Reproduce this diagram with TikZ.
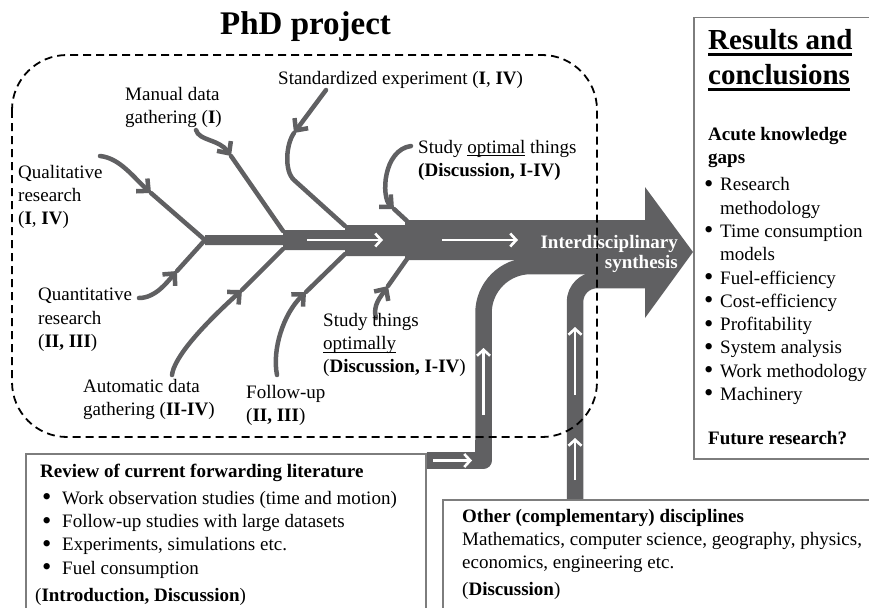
\documentclass[tikz,border=0pt]{standalone}
\usepackage{fontspec}
\usepackage{graphicx}
\setmainfont{Liberation Serif}
\usetikzlibrary{arrows.meta}
\definecolor{fishgray}{RGB}{96,96,98}
\definecolor{boxgray}{RGB}{125,125,125}
\newsavebox{\ulbox}
\newcommand{\ulthin}[1]{\sbox{\ulbox}{#1}\rlap{\rule[-3pt]{\wd\ulbox}{1pt}}\usebox{\ulbox}}
\newcommand{\ulthick}[1]{\sbox{\ulbox}{#1}\rlap{\rule[-6.5pt]{\wd\ulbox}{2.6pt}}\usebox{\ulbox}}
\newcommand{\bul}[1][16pt]{\makebox[#1][l]{\raisebox{-0.07em}{\scalebox{1.4}{\textbullet}}}}

\begin{document}
\begin{tikzpicture}[x=1pt, y=-1pt,
  lbl/.style={inner sep=0pt, align=left, font=\fontsize{19}{23.3}\selectfont},
  lblb/.style={lbl, font=\fontsize{19}{23.3}\selectfont\bfseries},
  bone/.style={fishgray, line width=4.5pt, line cap=round},
  bonetip/.style={-{Straight Barb[length=9pt,width=17pt]}},
  flow/.style={fishgray, line width=16.5pt},
  whitearrow/.style={white, line width=2.6pt, -{Straight Barb[length=6pt,width=13pt]}},
  infobox/.style={draw=boxgray, line width=1.5pt, fill=white, inner sep=0pt}]
	\useasboundingbox (0,0) rectangle (869,607);
	\clip (0,0) rectangle (869,607);

	\node[infobox, anchor=north west, minimum width=400pt, minimum height=200pt] (review) at (25,453) {};
	\node[infobox, anchor=north west, minimum width=450pt, minimum height=150pt] (other) at (442,499) {};
	\node[infobox, anchor=north west, minimum width=200pt, minimum height=441pt] (results) at (693,17) {};

	\fill[fishgray] (205,235) -- (283,235) -- (283,230) -- (345,230) -- (345,225) -- (405,225) -- (405,220) -- (650,220) -- (650,260) -- (405,260) -- (405,256) -- (345,256) -- (345,250) -- (283,250) -- (283,245) -- (205,245) -- cycle;
	\fill[fishgray] (645,187) -- (693,252) -- (645,318) -- cycle;

	\draw[flow, line join=round] ([yshift=-7.5pt]review.north east) -- (483.5,460.5) -- (483.5,440);
	\draw[flow, rounded corners=47pt] (483.5,445) -- (483.5,266) -- (650,266);
	\draw[flow, rounded corners=22pt] ([xshift=133pt]other.north west) -- (575,280) -- (650,280);

	\draw[whitearrow] (307,240) -- (383,240);
	\draw[whitearrow] (442,240) -- (518,240);
	\draw[whitearrow] (433,460.5) -- (472,460.5);
	\draw[whitearrow] (483.5,415) -- (483.5,348);
	\draw[whitearrow] (575,395) -- (575,327);
	\draw[whitearrow] (575,480) -- (575,438);

	\coordinate (fork) at (205,240);
	\coordinate (j1t) at (283,231);
	\coordinate (j1b) at (283,249);
	\coordinate (j2t) at (345,226);
	\coordinate (j2b) at (345,254);
	\coordinate (j3t) at (407,221);
	\coordinate (j3b) at (407,259);

	\coordinate (qualS) at (100,156);
	\coordinate (qualA) at (151,193);
	\draw[bone, bonetip] (qualS) .. controls (120,158) and (134,178) .. (qualA);
	\draw[bone] (qualA) -- (fork);

	\coordinate (manS) at (196,130);
	\coordinate (manA) at (231,156);
	\draw[bone, bonetip] (manS) .. controls (199,141) and (219,139) .. (manA);
	\draw[bone] (manA) -- (j1t);

	\coordinate (stdS) at (326,90);
	\coordinate (stdA) at (294,133);
	\draw[bone, bonetip] (stdS) -- (stdA);
	\draw[bone] (stdA) .. controls (286,144) and (284,171) .. (294,180) -- (j2t);

	\coordinate (optS) at (411,146);
	\coordinate (optA) at (394,209);
	\draw[bone, bonetip] (optS) .. controls (383,150) and (381,197) .. (optA);
	\draw[bone] (optA) -- (j3t);

	\coordinate (quantS) at (139,298);
	\coordinate (quantA) at (177,271);
	\draw[bone, bonetip] (quantS) .. controls (156,298) and (168,281) .. (quantA);
	\draw[bone] (quantA) -- (fork);

	\coordinate (autoS) at (172,375);
	\coordinate (autoA) at (242,290);
	\draw[bone, bonetip] (autoS) .. controls (174,358) and (200,328) .. (autoA);
	\draw[bone] (autoA) -- (j1b);

	\coordinate (folS) at (277,375);
	\coordinate (folA) at (306,292);
	\draw[bone, bonetip] (folS) .. controls (272,350) and (283,314) .. (folA);
	\draw[bone] (folA) -- (j2b);

	\coordinate (thS) at (376,318);
	\coordinate (thA) at (388,286);
	\draw[bone, bonetip] (thS) .. controls (372,305) and (382,295) .. (thA);
	\draw[bone] (thA) -- (j3b);

	\draw[dash pattern=on 8pt off 5pt, line width=1.8pt, rounded corners=55pt] (12,55) rectangle (597,437);

	\node[inner sep=0pt, anchor=base west, font=\fontsize{33}{40}\selectfont\bfseries] (title) at (220,35) {PhD project};
	\node[lbl, anchor=base west] (stdexp) at (278,85) {Standardized experiment (\textbf{I}, \textbf{IV})};
	\node[lbl, anchor=north west] (manual) at (125,87) {Manual data\\gathering (\textbf{I})};
	\node[lbl, anchor=north west] (qual) at (18,165) {Qualitative\\research\\(\textbf{I}, \textbf{IV})};
	\node[lbl, anchor=north west] (optthings) at (418,140) {Study \ulthin{optimal} things\\\textbf{(Discussion, I-IV)}};
	\node[lbl, anchor=north west] (quant) at (38,288) {Quantitative\\research\\(\textbf{II, III})};
	\node[lbl, anchor=north west] (auto) at (83,379) {Automatic data\\gathering (\textbf{II-IV})};
	\node[lbl, anchor=north west] (follow) at (246,385) {Follow-up\\(\textbf{II, III})};
	\node[lbl, anchor=north west] (thingsopt) at (323,313) {Study things\\\ulthin{optimally}\\(\textbf{Discussion, I-IV})};
	\node[inner sep=0pt, anchor=north east, align=right, text=white, font=\fontsize{19}{20}\selectfont\bfseries] (synth) at (678,235) {Interdisciplinary\\synthesis};

	\node[inner sep=0pt, anchor=north west, align=left, font=\fontsize{29}{35}\selectfont\bfseries] (restitle) at (708,29) {\ulthick{Results and}\\\ulthick{conclusions}};
	\node[lblb, anchor=north west] (gaps) at (708,127) {Acute knowledge\\gaps};
	\node[lbl, anchor=north west] (gaplist) at (704,177.5) {\bul Research\\\hspace*{16pt}methodology\\\bul Time consumption\\\hspace*{16pt}models\\\bul Fuel-efficiency\\\bul Cost-efficiency\\\bul Profitability\\\bul System analysis\\\bul Work methodology\\\bul Machinery};
	\node[lblb, anchor=base west] (future) at (708,444) {Future research?};

	\node[lblb, anchor=base west] (revhead) at (40,477) {Review of current forwarding literature};
	\node[lbl, anchor=north west] (revlist) at (42,491) {\bul[20pt]Work observation studies (time and motion)\\\bul[20pt]Follow-up studies with large datasets\\\bul[20pt]Experiments, simulations etc.\\\bul[20pt]Fuel consumption};
	\node[lbl, anchor=base west] (revref) at (35,601) {(\textbf{Introduction, Discussion})};

	\node[lblb, anchor=base west] (othhead) at (462,522) {Other (complementary) disciplines};
	\node[lbl, anchor=north west] (othtext) at (462,532) {Mathematics, computer science, geography, physics,\\economics, engineering etc.};
	\node[lbl, anchor=base west] (othref) at (462,595) {(\textbf{Discussion})};
\end{tikzpicture}
\end{document}
